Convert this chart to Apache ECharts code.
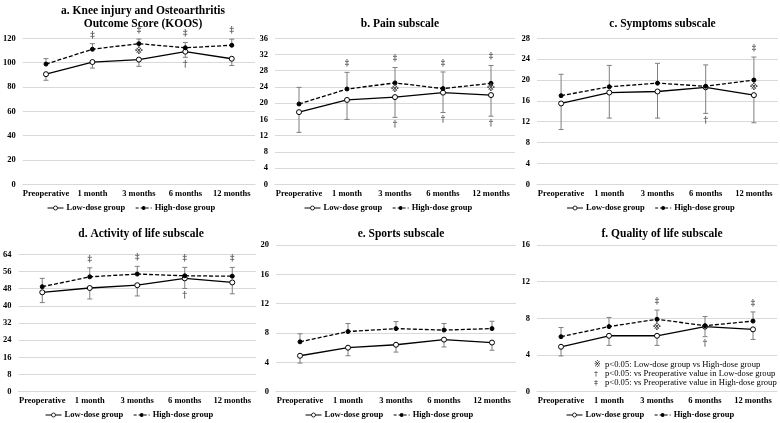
<!DOCTYPE html>
<html><head><meta charset="utf-8">
<script src="https://cdn.jsdelivr.net/npm/echarts@6/dist/echarts.min.js"></script>
<style>html,body{margin:0;padding:0;background:#fff}#c{width:780px;height:423px}</style>
</head><body><div id="c"></div>
<script>
const categories = ['Preoperative', '1 month', '3 months', '6 months', '12 months'];

// a. KOOS
const koosLowMean = [90.5, 100.5, 102.5, 109.0, 103.2];
const koosLowSD = [5.0, 5.0, 5.5, 4.6, 5.6];
const koosHighMean = [98.8, 111.0, 115.6, 112.2, 114.3];
const koosHighSD = [4.5, 4.6, 3.8, 4.4, 5.0];
const koosSigBetween = [0, 0, 1, 0, 0];
const koosSigLow = [0, 0, 0, 1, 0];
const koosSigHigh = [0, 1, 1, 1, 1];

// b. Pain
const painLowMean = [17.8, 20.8, 21.5, 22.6, 22.0];
const painLowSD = [5.0, 4.8, 5.0, 4.9, 5.2];
const painHighMean = [19.8, 23.5, 25.0, 23.6, 24.9];
const painHighSD = [4.1, 4.1, 3.8, 4.1, 4.4];
const painSigBetween = [0, 0, 1, 0, 1];
const painSigLow = [0, 0, 1, 1, 1];
const painSigHigh = [0, 1, 1, 1, 1];

// c. Symptoms
const sympLowMean = [15.5, 17.6, 17.8, 18.6, 17.1];
const sympLowSD = [5.0, 4.9, 5.1, 5.0, 5.3];
const sympHighMean = [17.0, 18.7, 19.4, 18.8, 20.0];
const sympHighSD = [4.1, 4.1, 3.8, 4.1, 4.4];
const sympSigBetween = [0, 0, 0, 0, 1];
const sympSigLow = [0, 0, 0, 1, 0];
const sympSigHigh = [0, 0, 0, 0, 1];

// d. Activity of life
const adlLowMean = [46.3, 48.3, 49.6, 52.8, 50.9];
const adlLowSD = [4.8, 5.1, 5.0, 4.7, 5.3];
const adlHighMean = [48.9, 53.5, 54.8, 54.0, 53.8];
const adlHighSD = [3.9, 4.2, 3.6, 3.9, 4.1];
const adlSigBetween = [0, 0, 0, 0, 0];
const adlSigLow = [0, 0, 0, 1, 0];
const adlSigHigh = [0, 1, 1, 1, 1];

// e. Sports
const sportLowMean = [4.9, 6.0, 6.4, 7.1, 6.7];
const sportLowSD = [1.0, 1.1, 1.0, 1.0, 1.05];
const sportHighMean = [6.8, 8.2, 8.6, 8.4, 8.6];
const sportHighSD = [1.1, 1.1, 0.95, 0.9, 1.0];
const sportSigBetween = [0, 0, 0, 0, 0];
const sportSigLow = [0, 0, 0, 0, 0];
const sportSigHigh = [0, 0, 0, 0, 0];

// f. Quality of life
const qolLowMean = [4.9, 6.1, 6.1, 7.1, 6.8];
const qolLowSD = [1.0, 1.05, 1.05, 1.1, 1.1];
const qolHighMean = [6.0, 7.1, 7.9, 7.2, 7.7];
const qolHighSD = [1.0, 1.0, 1.0, 1.0, 1.0];
const qolSigBetween = [0, 0, 1, 0, 0];
const qolSigLow = [0, 0, 0, 1, 0];
const qolSigHigh = [0, 0, 1, 0, 1];

const titles = ['a. Knee injury and Osteoarthritis\nOutcome Score (KOOS)', 'b. Pain subscale', 'c. Symptoms subscale',
  'd. Activity of life subscale', 'e. Sports subscale', 'f. Quality of life subscale'];
const yMax = [120, 36, 28, 64, 20, 16];
const yInterval = [20, 4, 4, 8, 4, 4];
const noteSymbols = ['※', '†', '‡'];
const noteTexts = ['p<0.05: Low-dose group vs High-dose group',
  'p<0.05: vs Preoperative value in Low-dose group',
  'p<0.05: vs Preoperative value in High-dose group'];

const data = [
  [koosLowMean, koosLowSD, koosHighMean, koosHighSD, koosSigBetween, koosSigLow, koosSigHigh],
  [painLowMean, painLowSD, painHighMean, painHighSD, painSigBetween, painSigLow, painSigHigh],
  [sympLowMean, sympLowSD, sympHighMean, sympHighSD, sympSigBetween, sympSigLow, sympSigHigh],
  [adlLowMean, adlLowSD, adlHighMean, adlHighSD, adlSigBetween, adlSigLow, adlSigHigh],
  [sportLowMean, sportLowSD, sportHighMean, sportHighSD, sportSigBetween, sportSigLow, sportSigHigh],
  [qolLowMean, qolLowSD, qolHighMean, qolHighSD, qolSigBetween, qolSigLow, qolSigHigh]
];

// layout (pixels)
const grids = [
  {left: 21, top: 38.3, width: 234, height: 146},
  {left: 275, top: 38.3, width: 240, height: 146},
  {left: 537, top: 38.3, width: 241, height: 146},
  {left: 16, top: 254.3, width: 240, height: 137.4},
  {left: 276, top: 245, width: 240, height: 146.7},
  {left: 537, top: 245, width: 240, height: 146.7}
];
const titleTops = [0, 12.5, 12.5, 223, 222.5, 222.5];
const legendTops = [203.5, 203.5, 203.5, 410.5, 410.5, 410.5];

const FONT = 'Liberation Serif, Times New Roman, serif';
const MARK_FONT = 'DejaVu Serif, DejaVu Sans, Noto Sans CJK JP, serif';
const GRID_COLOR = '#d9d9d9';
const ERR_COLOR = '#7f7f7f';

function errRender(dir) {
  return function (params, api) {
    const i = api.value(0), v = api.value(1), sd = api.value(2);
    const p0 = api.coord([i, v]);
    const p1 = api.coord([i, v + dir * sd]);
    const st = {stroke: ERR_COLOR, lineWidth: 1};
    return {type: 'group', children: [
      {type: 'line', shape: {x1: p0[0], y1: p0[1], x2: p1[0], y2: p1[1]}, style: st},
      {type: 'line', shape: {x1: p1[0] - 2.5, y1: p1[1], x2: p1[0] + 2.5, y2: p1[1]}, style: st}
    ]};
  };
}

const option = {
  animation: false,
  backgroundColor: '#fff',
  title: [], legend: [], grid: [], xAxis: [], yAxis: [], series: [], graphic: []
};

data.forEach(function (d, k) {
  const [lowM, lowSD, highM, highSD, sigB, sigL, sigH] = d;
  const g = grids[k];
  option.grid.push(Object.assign({containLabel: false}, g));
  option.title.push({
    text: titles[k], left: g.left + g.width / 2, top: titleTops[k], textAlign: 'center',
    textStyle: {fontFamily: FONT, fontWeight: 'bold', fontSize: 11.5, lineHeight: 13, color: '#000'}
  });
  option.legend.push({
    left: g.left + g.width / 2 - 91, top: legendTops[k], itemWidth: 16, itemHeight: 5, itemGap: 10,
    data: [
      {name: 'Low-dose group', lineStyle: {width: 1}, itemStyle: {borderWidth: 0.8}},
      {name: 'High-dose group', lineStyle: {type: [3, 2], width: 1}}
    ],
    textStyle: {fontFamily: FONT, fontWeight: 'bold', fontSize: 8.5, color: '#000', padding: [0, 0, 0, -2]},
    selectedMode: false, padding: 0
  });
  option.xAxis.push({
    type: 'category', gridIndex: k, data: categories,
    axisTick: {show: false},
    axisLine: {lineStyle: {color: GRID_COLOR, width: 1}},
    axisLabel: {fontFamily: FONT, fontWeight: 'bold', fontSize: 8.5, color: '#000', margin: 5, interval: 0}
  });
  option.yAxis.push({
    type: 'value', gridIndex: k, min: 0, max: yMax[k], interval: yInterval[k],
    axisLine: {show: false}, axisTick: {show: false},
    splitLine: {lineStyle: {color: GRID_COLOR, width: 1}},
    axisLabel: {fontFamily: FONT, fontWeight: 'bold', fontSize: 8.5, color: '#000', margin: 7}
  });
  // error bars
  option.series.push({
    type: 'custom', xAxisIndex: k, yAxisIndex: k, z: 1, silent: true,
    renderItem: errRender(-1), encode: {x: 0, y: 1},
    data: lowM.map((v, i) => [i, v, lowSD[i]])
  });
  option.series.push({
    type: 'custom', xAxisIndex: k, yAxisIndex: k, z: 1, silent: true,
    renderItem: errRender(1), encode: {x: 0, y: 1},
    data: highM.map((v, i) => [i, v, highSD[i]])
  });
  option.series.push({
    name: 'Low-dose group', type: 'line', xAxisIndex: k, yAxisIndex: k, z: 3,
    data: lowM, symbol: 'circle', symbolSize: 5, showSymbol: true,
    lineStyle: {color: '#000', width: 1.3, type: 'solid'},
    itemStyle: {color: '#fff', borderColor: '#000', borderWidth: 1}
  });
  option.series.push({
    name: 'High-dose group', type: 'line', xAxisIndex: k, yAxisIndex: k, z: 3,
    data: highM, symbol: 'circle', symbolSize: 4,
    lineStyle: {color: '#000', width: 1.3, type: [4, 2]},
    itemStyle: {color: '#000', borderColor: '#000'}
  });
  function marks(points, pos, dist, glyph) {
    return {
      type: 'custom', xAxisIndex: k, yAxisIndex: k, z: 4, silent: true, encode: {x: 0, y: 1},
      data: points,
      renderItem: function (params, api) {
        const p = api.coord([api.value(0), api.value(1)]);
        const dy = pos === 'top' ? -dist : (pos === 'bottom' ? dist : 0);
        return {type: 'text', x: p[0], y: p[1] + dy,
          style: {text: glyph, align: 'center',
            verticalAlign: pos === 'top' ? 'bottom' : (pos === 'bottom' ? 'top' : 'middle'),
            font: 'bold 8.5px ' + MARK_FONT, fill: '#444'}};
      }
    };
  }
  option.series.push(marks(highM.map((v, i) => sigH[i] ? [i, v + highSD[i]] : null).filter(x => x), 'top', 4, '‡'));
  option.series.push(marks(lowM.map((v, i) => sigL[i] ? [i, v - lowSD[i]] : null).filter(x => x), 'bottom', 3, '†'));
  option.series.push(marks(lowM.map((v, i) => sigB[i] ? [i, (v + highM[i]) / 2] : null).filter(x => x), 'middle', 0, '※'));
});

// footnote in panel f
noteTexts.forEach(function (t, j) {
  option.graphic.push({
    type: 'text', left: 594, top: 360.5 + j * 9, z: 10,
    style: {text: noteSymbols[j], font: '8px ' + MARK_FONT, fill: '#222'}
  });
  option.graphic.push({
    type: 'text', left: 605, top: 360 + j * 9, z: 10,
    style: {text: t, fontFamily: FONT, fontSize: 8.6, fill: '#000'}
  });
});

const chart = echarts.init(document.getElementById('c'), null, {renderer: 'canvas'});
chart.setOption(option);
</script>
</body></html>
